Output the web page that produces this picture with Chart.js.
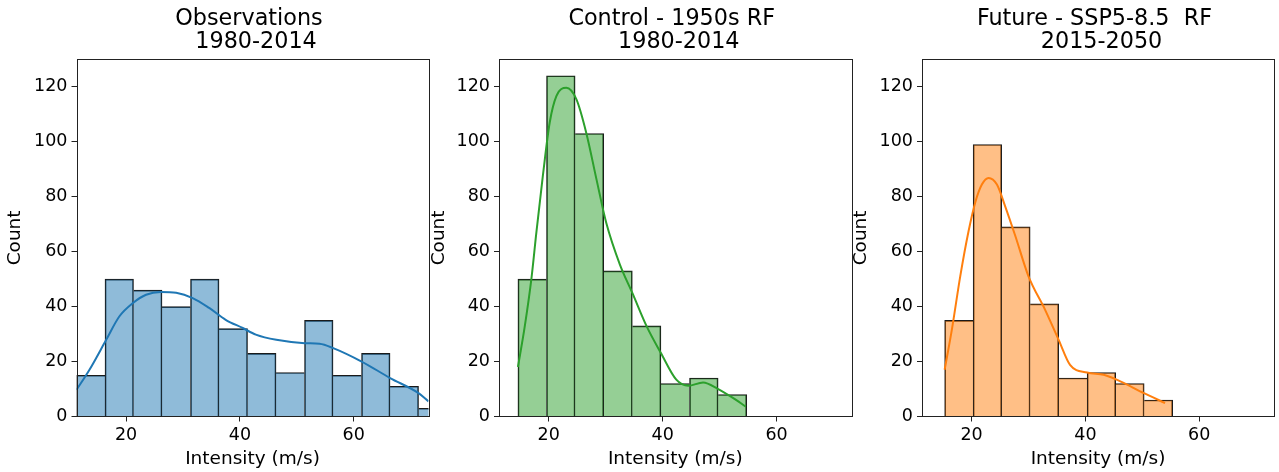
<!DOCTYPE html>
<html>
<head>
<meta charset="utf-8">
<script src="https://cdn.jsdelivr.net/npm/chart.js@4.4.1/dist/chart.umd.min.js"></script>
<style>
  html, body { margin: 0; padding: 0; background: #fff; }
  #wrap { position: relative; width: 1279px; height: 472px; overflow: hidden; }
  canvas { position: absolute; top: 0; }
</style>
</head>
<body>
<div id="wrap">
  <canvas id="obsChart" width="432" height="472" style="left:0px"></canvas>
  <canvas id="ctlChart" width="432" height="472" style="left:424px"></canvas>
  <canvas id="futChart" width="433" height="472" style="left:846px"></canvas>
</div>
<script>
// histogram bin edges and counts
const obsEdges = [11.28, 16.29, 21.30, 26.31, 31.32, 36.33, 41.34, 46.35, 51.36, 56.37, 61.38, 66.39, 71.40, 76.41];
const obsCounts = [15, 50, 46, 40, 50, 32, 23, 16, 35, 15, 23, 11, 3];

const ctlEdges = [14.60, 19.62, 24.64, 29.66, 34.68, 39.70, 44.72, 49.74, 54.76];
const ctlCounts = [50, 124, 103, 53, 33, 12, 14, 8];

const futEdges = [15.26, 20.27, 25.28, 30.29, 35.30, 40.31, 45.32, 50.33, 55.34];
const futCounts = [35, 99, 69, 41, 14, 16, 12, 6];

// kde curves (scaled to counts)
const obsKdeX = [11.28, 13.56, 16.5, 18.8, 21.2, 23.5, 26.1, 28.8, 31.7, 34.6, 37.5, 40.5, 42.8, 46.4, 51.4, 54.0, 56.4, 61.4, 66.4, 71.4, 73.15];
const obsKdeY = [9.7, 17, 27.9, 36.4, 41.3, 44.3, 45.3, 45, 43.1, 39.5, 35.2, 32.2, 29.8, 27.9, 26.7, 26.5, 24.9, 20, 14, 8.5, 5.5];

const ctlKdeX = [14.6, 15.78, 16.96, 17.84, 19.0, 20.18, 21.35, 23.1, 24.87, 26.6, 28.4, 30.1, 32.5, 34.7, 37.2, 39.7, 42.4, 44.5, 47.1, 49.75, 52.4, 54.6];
const ctlKdeY = [18, 32.5, 50, 67, 88, 107, 116.6, 119.6, 115.4, 103.2, 86.2, 70.5, 55.3, 44.9, 32.8, 23.1, 13.4, 11.2, 12.4, 10, 6.7, 3.6];

const futKdeX = [15.26, 16.56, 18.0, 19.47, 20.65, 21.8, 22.98, 24.45, 25.9, 27.7, 30.0, 32.9, 35.3, 37.3, 40.3, 43.2, 45.5, 50.3, 54.0];
const futKdeY = [17.0, 32, 51, 67.5, 78, 84.4, 86.8, 84.4, 76.5, 65.6, 51, 38.9, 27.9, 18.8, 16.0, 15.2, 13.4, 8.5, 4.9];

const xTicks = [20, 40, 60];
const yTicks = [0, 20, 40, 60, 80, 100, 120];
const xRange = [11.28, 73.15];
const yRange = [0, 130];

const FONT = "'DejaVu Sans', sans-serif";

const framePlugin = {
    id: 'frame',
    afterDraw(chart) {
        const a = chart.chartArea;
        const ctx = chart.ctx;
        ctx.save();
        ctx.strokeStyle = '#222';
        ctx.lineWidth = 1;
        ctx.strokeRect(Math.round(a.left) + 0.5, Math.round(a.top) + 0.5,
            Math.round(a.right - a.left), Math.round(a.bottom - a.top));
        ctx.restore();
    }
};

function makeChart(id, title, edges, counts, kdeX, kdeY, fill, line, yWidth, padRight) {
    const bars = counts.map((c, i) => ({x: (edges[i] + edges[i + 1]) / 2, y: c}));
    const kde = kdeX.map((x, i) => ({x: x, y: kdeY[i]}));
    new Chart(document.getElementById(id), {
        type: 'bar',
        data: {
            datasets: [{
                type: 'line',
                data: kde,
                borderColor: line,
                borderWidth: 2,
                pointRadius: 0,
                fill: false,
                cubicInterpolationMode: 'monotone',
                order: 0
            }, {
                type: 'bar',
                data: bars,
                backgroundColor: fill,
                borderColor: '#1a1a1a',
                borderWidth: (c) => {
                    const i = c.dataIndex;
                    const cur = counts[i];
                    return {
                        top: 1,
                        bottom: 0,
                        left: (i === 0 || counts[i - 1] <= cur) ? 1 : 0,
                        right: (i === counts.length - 1 || counts[i + 1] < cur) ? 1 : 0
                    };
                },
                borderSkipped: false,
                barPercentage: 1,
                categoryPercentage: 1,
                order: 1
            }]
        },
        options: {
            responsive: false,
            animation: false,
            layout: { padding: { left: 0, right: padRight, top: 0, bottom: 0 } },
            plugins: {
                legend: { display: false },
                tooltip: { enabled: false },
                title: {
                    display: true,
                    fullSize: false,
                    text: title,
                    color: '#000',
                    font: { family: FONT, size: 22.3, weight: 'normal', lineHeight: 1.06 },
                    padding: { top: 7, bottom: 5 }
                }
            },
            scales: {
                x: {
                    type: 'linear',
                    min: xRange[0],
                    max: xRange[1],
                    offset: false,
                    afterBuildTicks: (s) => { s.ticks = xTicks.map(v => ({value: v})); },
                    afterFit: (s) => { s.height = 55.5; },
                    grid: { display: true, drawOnChartArea: false, drawTicks: true, tickLength: 5, tickColor: '#222', offset: false },
                    border: { display: false },
                    ticks: { color: '#000', font: { family: FONT, size: 17.5 }, padding: 3, maxRotation: 0 },
                    title: {
                        display: true,
                        text: 'Intensity (m/s)',
                        color: '#000',
                        font: { family: FONT, size: 18.5 },
                        padding: { top: 0, bottom: 2 }
                    }
                },
                y: {
                    min: yRange[0],
                    max: yRange[1],
                    afterBuildTicks: (s) => { s.ticks = yTicks.map(v => ({value: v})); },
                    afterFit: (s) => { s.width = yWidth; },
                    grid: { display: true, drawOnChartArea: false, drawTicks: true, tickLength: 5, tickColor: '#222' },
                    border: { display: false },
                    ticks: { color: '#000', font: { family: FONT, size: 17.5 }, padding: 4 },
                    title: {
                        display: true,
                        text: 'Count',
                        color: '#000',
                        font: { family: FONT, size: 18.5 },
                        padding: { top: 4, bottom: 0 }
                    }
                }
            }
        },
        plugins: [framePlugin]
    });
}

makeChart('obsChart', ['Observations ', ' 1980-2014'], obsEdges, obsCounts, obsKdeX, obsKdeY,
    'rgba(31,119,180,0.5)', '#1f77b4', 76.5, 3.5);
makeChart('ctlChart', ['Control - 1950s RF ', ' 1980-2014'], ctlEdges, ctlCounts, ctlKdeX, ctlKdeY,
    'rgba(44,160,44,0.5)', '#2ca02c', 75, 4.5);
makeChart('futChart', ['Future - SSP5-8.5  RF ', ' 2015-2050'], futEdges, futCounts, futKdeX, futKdeY,
    'rgba(255,127,14,0.5)', '#ff7f0e', 76, 5);
</script>
</body>
</html>
